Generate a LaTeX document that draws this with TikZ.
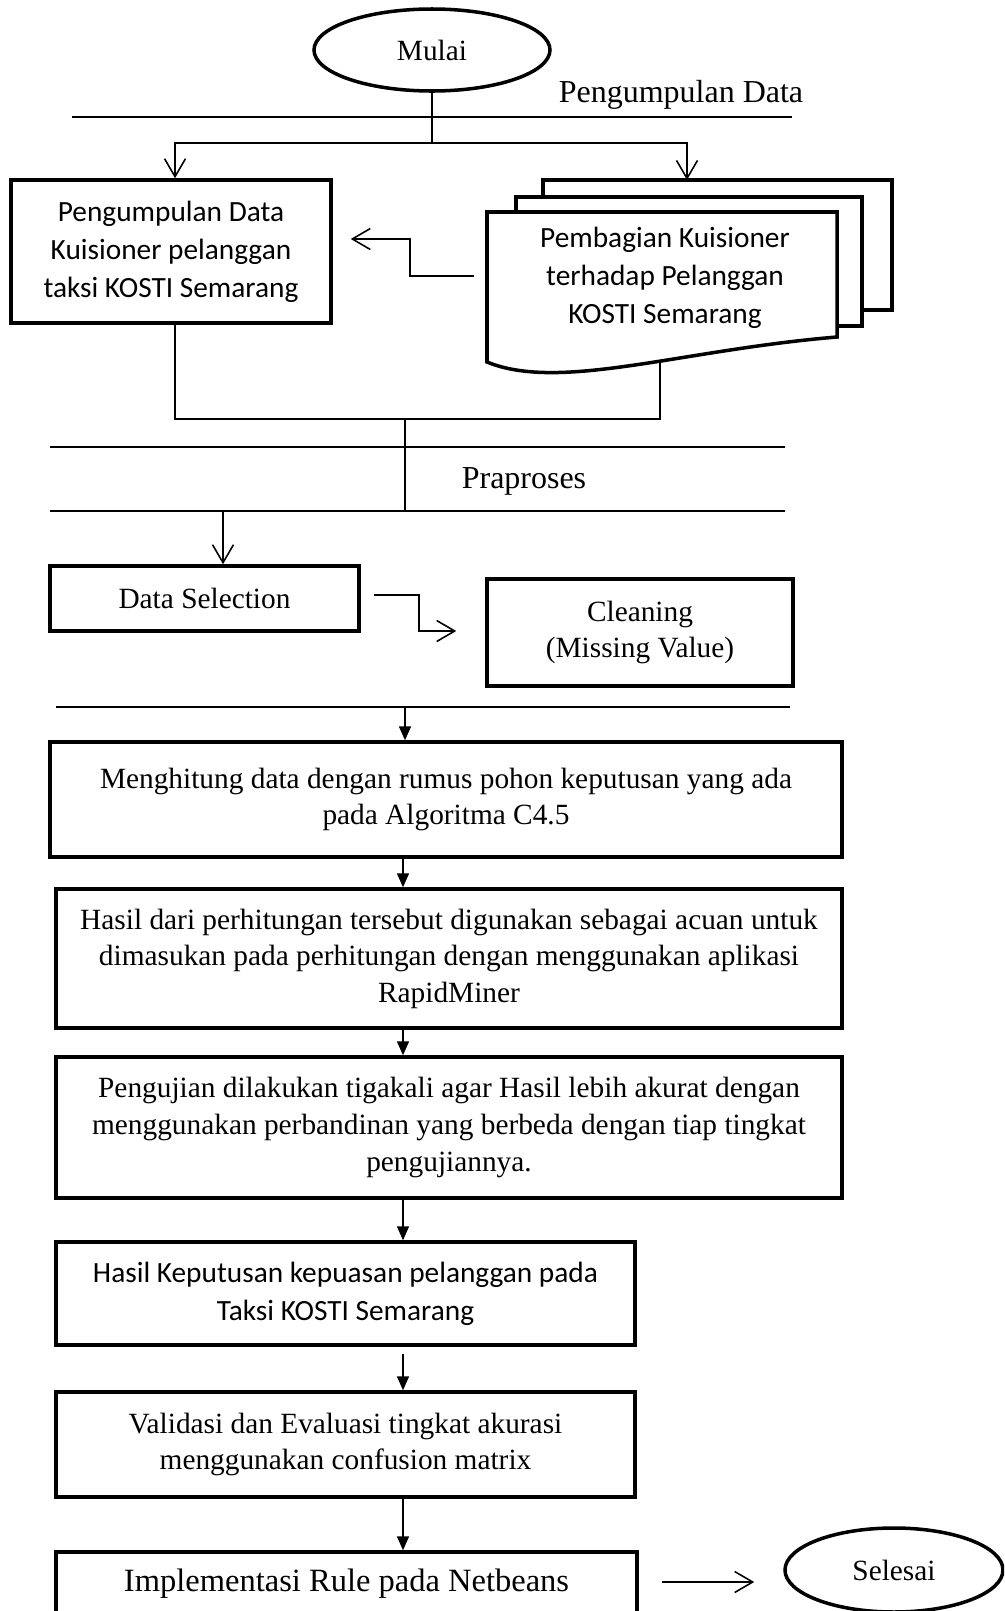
\documentclass[tikz,border=0pt]{standalone}
\usepackage{fontspec}
\setmainfont{Liberation Serif}
\newfontfamily\calibri{Carlito}
\usetikzlibrary{arrows.meta, positioning, shapes.geometric}

\begin{document}
\begin{tikzpicture}[x=0.2mm, y=-0.2mm,
  box/.style={rectangle, draw, line width=2pt, align=center, inner sep=0pt, font=\fontsize{16.7}{20.8}\selectfont},
  cbox/.style={box, font=\calibri\fontsize{16.7}{21.6}\selectfont},
  oval/.style={ellipse, draw, line width=2pt, inner sep=0pt, font=\fontsize{16.7}{20}\selectfont},
  sheet/.style={draw, fill=white, line width=2pt},
  head/.style={font=\fontsize{18.2}{22}\selectfont},
  sep/.style={line width=0.9pt},
  link/.style={line width=0.6pt},
  barb/.style={-{Straight Barb[length=3.6mm, width=4.2mm]}, line width=0.9pt},
  tri/.style={-{Triangle[length=2.8mm, width=2.4mm]}, line width=0.9pt}]
\useasboundingbox (0,0) rectangle (1004,1611);
\clip (0,0) rectangle (1004,1611);

% tahap pengumpulan data
\node[oval, minimum width=47.2mm, minimum height=16.4mm] (mulai) at (432,50) {Mulai};
\draw[sep] (72,117) -- (792,117);
\node[head] (tahap1) at (681,95) {Pengumpulan Data};
\node[cbox, minimum width=64mm, minimum height=28.6mm] (pdata) at (171,251.5) {Pengumpulan Data\\Kuisioner pelanggan\\taksi KOSTI Semarang};
\draw[sheet] (543,180) rectangle (892,310);
\draw[sheet] (516,197) rectangle (862,326);
\draw[sheet] (487,212) -- (837,212) -- (837,337) .. controls (680,350) and (560,392) .. (487,362) -- cycle;
\node[font=\calibri\fontsize{16.7}{21.6}\selectfont, align=center] (kuis) at (665,278) {Pembagian Kuisioner\\terhadap Pelanggan\\KOSTI Semarang};
\coordinate (split) at (432,143);
\coordinate (kuisT) at (687,180);
\coordinate (kuisW) at (474,276);
\coordinate (kuisB) at (660,362);
\coordinate (join) at (405,419);
\draw[link] (mulai) -- (split);
\draw[barb] (split) -| ([xshift=0.8mm]pdata.north);
\draw[barb] (split) -| (kuisT);
\draw[barb] (kuisW) -- ++(-64,0) |- ([xshift=3.6mm, yshift=2.5mm]pdata.east);
\draw[link] ([xshift=0.8mm]pdata.south) |- (join) -| (kuisB);

% tahap praproses
\draw[sep] (50,447) -- (785,447);
\draw[sep] (50,511) -- (785,511);
\node[head] (tahap2) at (524,481) {Praproses};
\coordinate (praT) at (405,511);
\draw[link] (join) -- (praT);
\node[box, minimum width=61.8mm, minimum height=13mm] (dsel) at (204.5,598.5) {Data Selection};
\node[box, minimum width=61.2mm, minimum height=21.4mm] (clean) at (640,632.5) {Cleaning\\(Missing Value)};
\coordinate (selT) at (223,511);
\draw[barb] (selT) -- (selT |- dsel.north);
\draw[barb] ([xshift=2.6mm, yshift=0.7mm]dsel.east) -- ++(45,0) |- ([xshift=-5.8mm, yshift=0.3mm]clean.west);
\draw[sep] (56,707) -- (790,707);

% perhitungan dan hasil
\coordinate (hitT) at (405,707);
\coordinate (axis) at (403,0);
\node[box, minimum width=158.4mm, minimum height=23mm] (hitung) at (446,799.5) {Menghitung data dengan rumus pohon keputusan yang ada\\pada Algoritma C4.5};
\node[box, minimum width=157.2mm, minimum height=27.8mm] (hasil) at (449,958.5) {Hasil dari perhitungan tersebut digunakan sebagai acuan untuk\\dimasukan pada perhitungan dengan menggunakan aplikasi\\RapidMiner};
\node[box, minimum width=157.2mm, minimum height=28.2mm] (uji) at (449,1127.5) {Pengujian dilakukan tigakali agar Hasil lebih akurat dengan\\menggunakan perbandinan yang berbeda dengan tiap tingkat\\pengujiannya.};
\node[cbox, minimum width=115.8mm, minimum height=20.6mm] (keput) at (345.5,1293.5) {Hasil Keputusan kepuasan pelanggan pada\\Taksi KOSTI Semarang};
\node[box, minimum width=115.8mm, minimum height=21mm] (valid) at (345.5,1444.5) {Validasi dan Evaluasi tingkat akurasi\\menggunakan confusion matrix};
\node[box, minimum width=116.2mm, minimum height=12.8mm, font=\fontsize{18.5}{22}\selectfont] (impl) at (346.5,1584) {Implementasi Rule pada Netbeans};
\node[oval, minimum width=43.6mm, minimum height=16.8mm] (selesai) at (894,1570) {Selesai};
\draw[tri] (hitT) -- (hitT |- hitung.north);
\draw[tri] (axis |- hitung.south) -- (axis |- hasil.north);
\draw[tri] (axis |- hasil.south) -- (axis |- uji.north);
\draw[tri] (axis |- uji.south) -- (axis |- keput.north);
\draw[tri] ([yshift=-1.4mm]axis |- keput.south) -- (axis |- valid.north);
\draw[tri] (axis |- valid.south) -- (axis |- impl.north);
\draw[barb] ([xshift=4.6mm, yshift=0.4mm]impl.east) -- ([xshift=-5.8mm, yshift=0.4mm]selesai.west |- impl.east);
\end{tikzpicture}
\end{document}
